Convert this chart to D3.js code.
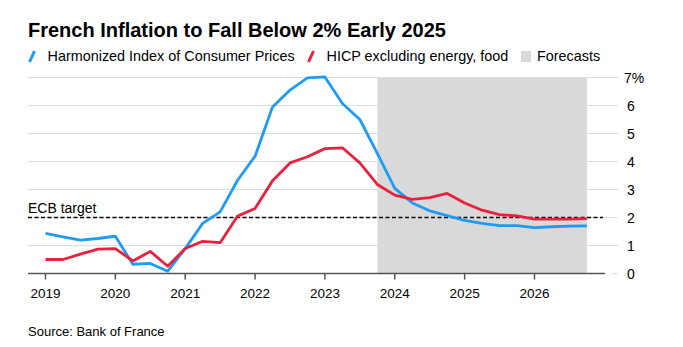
<!DOCTYPE html>
<html>
<head>
<meta charset="utf-8">
<script src="https://cdn.jsdelivr.net/npm/d3@7"></script>
<style>
  body { margin: 0; background: #fff; }
  text { font-family: "Liberation Sans", Arial, sans-serif; fill: #000; }
</style>
</head>
<body>
<script>
// quarterly observations, decimal years
const quarters = [
  2019.0, 2019.25, 2019.5, 2019.75,
  2020.0, 2020.25, 2020.5, 2020.75,
  2021.0, 2021.25, 2021.5, 2021.75,
  2022.0, 2022.25, 2022.5, 2022.75,
  2023.0, 2023.25, 2023.5, 2023.75,
  2024.0, 2024.25, 2024.5, 2024.75,
  2025.0, 2025.25, 2025.5, 2025.75,
  2026.0, 2026.25, 2026.5, 2026.75
];
const hicp = [
  1.43, 1.31, 1.19, 1.25,
  1.33, 0.33, 0.36, 0.08,
  0.89, 1.79, 2.2, 3.33,
  4.19, 5.95, 6.55, 6.99,
  7.02, 6.07, 5.5, 4.29,
  3.04, 2.52, 2.24, 2.07,
  1.9, 1.79, 1.71, 1.71,
  1.64, 1.67, 1.69, 1.7
];
const hicpCore = [
  0.5, 0.5, 0.69, 0.87,
  0.89, 0.45, 0.79, 0.26,
  0.89, 1.15, 1.1, 2.05,
  2.32, 3.31, 3.95, 4.17,
  4.46, 4.49, 3.95, 3.18,
  2.8, 2.65, 2.71, 2.86,
  2.52, 2.26, 2.1, 2.06,
  1.94, 1.94, 1.94, 1.96
];
const yearTicks = [2019, 2020, 2021, 2022, 2023, 2024, 2025, 2026];
const valueTicks = [0, 1, 2, 3, 4, 5, 6, 7];
const forecastSpan = [2023.75, 2026.75];
const ecbTarget = 2;

const width = 683, height = 347;
const blue = "#1e9bf5", red = "#e8213f";

const x = d3.scaleLinear().domain([2019, 2026]).range([45.5, 534.5]);
const y = d3.scaleLinear().domain([0, 7]).range([273.5, 77.5]);
const plotLeft = 28, axisRight = 605, gridRight = 618;

const svg = d3.select("body").append("svg")
  .attr("width", width)
  .attr("height", height);

// title
svg.append("text")
  .attr("x", 28).attr("y", 36.5)
  .style("font-size", "20px")
  .style("font-weight", "bold")
  .text("French Inflation to Fall Below 2% Early 2025");

// legend
const legend = svg.append("g");
const legendItems = [
  { label: "Harmonized Index of Consumer Prices", x: 29, color: blue, kind: "line" },
  { label: "HICP excluding energy, food", x: 308, color: red, kind: "line" },
  { label: "Forecasts", x: 521, color: "#d9d9d9", kind: "box" }
];
legendItems.forEach(it => {
  if (it.kind === "line") {
    legend.append("line")
      .attr("x1", it.x + 0.5).attr("y1", 62)
      .attr("x2", it.x + 5.5).attr("y2", 51)
      .attr("stroke", it.color)
      .attr("stroke-width", 3);
    legend.append("text")
      .attr("x", it.x + 18.5).attr("y", 61)
      .style("font-size", "14.4px")
      .text(it.label);
  } else {
    legend.append("rect")
      .attr("x", it.x).attr("y", 51)
      .attr("width", 10).attr("height", 11)
      .attr("fill", it.color);
    legend.append("text")
      .attr("x", it.x + 16).attr("y", 61)
      .style("font-size", "14.4px")
      .text(it.label);
  }
});

// forecast shading
svg.append("rect")
  .attr("x", x(forecastSpan[0]))
  .attr("y", y(7))
  .attr("width", x(forecastSpan[1]) - x(forecastSpan[0]))
  .attr("height", y(0) - y(7))
  .attr("fill", "#d9d9d9");

// gridlines
svg.append("g").selectAll("line")
  .data(valueTicks.filter(d => d > 0))
  .join("line")
  .attr("x1", plotLeft).attr("x2", gridRight)
  .attr("y1", d => y(d)).attr("y2", d => y(d))
  .attr("stroke", "#dcdcdc")
  .attr("stroke-width", 1);
svg.append("line")
  .attr("x1", 612).attr("x2", gridRight)
  .attr("y1", y(0)).attr("y2", y(0))
  .attr("stroke", "#dcdcdc");

// y labels
svg.append("g").selectAll("text")
  .data(valueTicks)
  .join("text")
  .attr("x", d => d === 7 ? 624 : 627)
  .attr("y", d => y(d) + 5)
  .style("font-size", "14px")
  .text(d => d === 7 ? d + "%" : d);

// x axis
svg.append("line")
  .attr("x1", plotLeft).attr("x2", axisRight)
  .attr("y1", y(0)).attr("y2", y(0))
  .attr("stroke", "#555")
  .attr("stroke-width", 1.5);
svg.append("g").selectAll("line")
  .data(yearTicks)
  .join("line")
  .attr("x1", d => x(d)).attr("x2", d => x(d))
  .attr("y1", y(0)).attr("y2", y(0) + 6)
  .attr("stroke", "#555")
  .attr("stroke-width", 1.5);
svg.append("g").selectAll("text")
  .data(yearTicks)
  .join("text")
  .attr("x", d => x(d))
  .attr("y", 297.5)
  .attr("text-anchor", "middle")
  .style("font-size", "13.5px")
  .text(d => d);

// ECB target
svg.append("line")
  .attr("x1", plotLeft).attr("x2", 603)
  .attr("y1", y(ecbTarget)).attr("y2", y(ecbTarget))
  .attr("stroke", "#000")
  .attr("stroke-width", 1.3)
  .attr("stroke-dasharray", "4,2.5");
svg.append("text")
  .attr("x", 28).attr("y", 212.5)
  .style("font-size", "14px")
  .text("ECB target");

// series
const line = d3.line()
  .x((d, i) => x(quarters[i]))
  .y(d => y(d));

svg.append("path")
  .datum(hicp)
  .attr("fill", "none")
  .attr("stroke", blue)
  .attr("stroke-width", 2.8)
  .attr("stroke-linejoin", "round")
  .attr("d", line);

svg.append("path")
  .datum(hicpCore)
  .attr("fill", "none")
  .attr("stroke", red)
  .attr("stroke-width", 2.8)
  .attr("stroke-linejoin", "round")
  .attr("d", line);

// source
svg.append("text")
  .attr("x", 28).attr("y", 336)
  .style("font-size", "13px")
  .text("Source: Bank of France");
</script>
</body>
</html>
